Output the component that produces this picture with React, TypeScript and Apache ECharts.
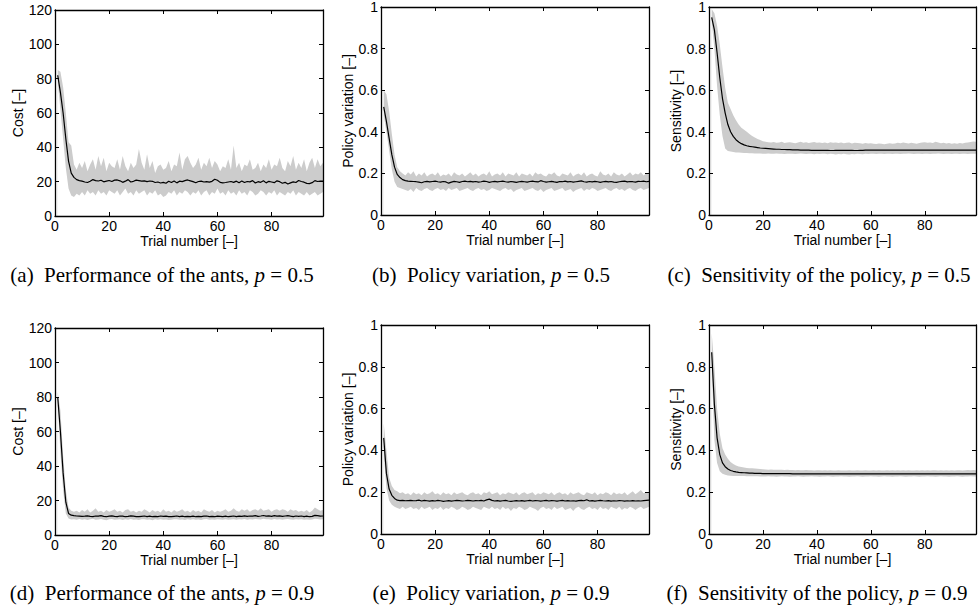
import React, { useEffect, useRef } from "react";
import * as echarts from "echarts";

// Trial numbers 1..99
const trials: number[] = Array.from({ length: 99 }, (_, i) => i + 1);

// (a) Cost, p = 0.5
const meanA = [82, 72, 60, 45, 32, 25, 22.5, 21.2, 20.6, 20.3,
  19.8, 19.5, 20.2, 21.2, 20.6, 20.4, 20.8, 19.9, 20.3, 20.7,
  20.1, 20.9, 21.0, 20.5, 19.6, 20.3, 21.2, 19.8, 20.2, 20.9,
  20.6, 20.3, 20.5, 20.0, 20.4, 20.2, 19.5, 19.8, 19.2, 19.6,
  19.1, 20.2, 19.5, 20.4, 19.3, 20.3, 20.0, 20.6, 21.0, 20.5,
  20.0, 19.4, 20.1, 20.3, 19.8, 20.0, 19.7, 20.2, 21.4, 20.8,
  19.6, 19.3, 19.5, 19.8, 20.1, 19.6, 20.3, 19.4, 20.4, 19.5,
  20.1, 19.9, 20.6, 19.2, 20.0, 19.6, 20.5, 19.3, 20.2, 19.8,
  19.4, 20.5, 20.0, 19.1, 19.6, 18.6, 19.3, 19.9, 19.5, 20.7,
  20.1, 19.7, 19.0, 18.9, 19.4, 20.6, 20.1, 20.3, 20.4];
const upperA = [85, 84, 75, 60, 43, 41, 30, 27, 31, 28,
  32, 26, 30, 33, 27, 35, 29, 34, 26, 31,
  29, 28, 33, 27, 35, 29, 26, 31, 28, 30,
  39, 31, 27, 36, 28, 32, 25, 29, 30, 27,
  28, 32, 26, 30, 29, 37, 27, 33, 35, 31,
  28, 30, 34, 27, 31, 29, 34, 28, 32, 30,
  26, 29, 28, 33, 27, 41, 28, 31, 26, 30,
  29, 33, 27, 28, 31, 26, 30, 28, 33, 27,
  30, 29, 34, 28, 26, 32, 29, 35, 27, 31,
  28, 33, 26, 31, 34, 28, 33, 29, 31];
const lowerA = [78, 62, 45, 28, 16, 12, 11, 13, 12, 14,
  12, 15, 13, 14, 12, 15, 13, 14, 12, 15,
  14, 13, 15, 12, 14, 16, 13, 14, 12, 15,
  13, 14, 15, 12, 14, 13, 15, 12, 13, 11,
  12, 14, 13, 15, 12, 14, 13, 15, 14, 12,
  14, 13, 15, 12, 14, 15, 12, 14, 13, 16,
  13, 14, 12, 15, 13, 14, 12, 15, 13, 14,
  12, 15, 14, 12, 13, 15, 14, 12, 14, 13,
  15, 12, 14, 13, 12, 14, 13, 15, 12, 14,
  13, 12, 14, 12, 13, 14, 12, 13, 14];

// (b) Policy variation, p = 0.5
const meanB = [0.52, 0.45, 0.37, 0.29, 0.23, 0.195, 0.18, 0.17, 0.165, 0.163,
  0.162, 0.161, 0.160, 0.158, 0.155, 0.160, 0.162, 0.159, 0.161, 0.163,
  0.160, 0.158, 0.161, 0.159, 0.153, 0.158, 0.162, 0.160, 0.157, 0.161,
  0.163, 0.160, 0.162, 0.159, 0.161, 0.158, 0.160, 0.163, 0.161, 0.157,
  0.160, 0.162, 0.159, 0.161, 0.163, 0.160, 0.158, 0.161, 0.159, 0.157,
  0.160, 0.162, 0.160, 0.158, 0.161, 0.163, 0.160, 0.159, 0.165, 0.161,
  0.158, 0.160, 0.162, 0.159, 0.157, 0.161, 0.160, 0.163, 0.159, 0.161,
  0.158, 0.160, 0.162, 0.164, 0.160, 0.158, 0.161, 0.159, 0.162, 0.160,
  0.157, 0.160, 0.162, 0.159, 0.161, 0.158, 0.157, 0.160, 0.162, 0.163,
  0.159, 0.161, 0.160, 0.158, 0.162, 0.161, 0.163, 0.160, 0.162];
const upperB = [0.60, 0.58, 0.50, 0.39, 0.29, 0.23, 0.21, 0.20, 0.19, 0.205,
  0.195, 0.210, 0.185, 0.200, 0.190, 0.205, 0.185, 0.195, 0.200, 0.190,
  0.205, 0.185, 0.195, 0.190, 0.200, 0.185, 0.205, 0.195, 0.190, 0.200,
  0.185, 0.195, 0.205, 0.190, 0.200, 0.185, 0.195, 0.200, 0.190, 0.210,
  0.185, 0.195, 0.200, 0.190, 0.205, 0.185, 0.200, 0.195, 0.190, 0.205,
  0.185, 0.200, 0.195, 0.190, 0.200, 0.185, 0.205, 0.195, 0.200, 0.190,
  0.185, 0.200, 0.195, 0.205, 0.190, 0.185, 0.200, 0.195, 0.190, 0.205,
  0.185, 0.195, 0.200, 0.190, 0.205, 0.185, 0.195, 0.200, 0.190, 0.185,
  0.210, 0.195, 0.190, 0.200, 0.185, 0.205, 0.195, 0.190, 0.200, 0.185,
  0.195, 0.205, 0.190, 0.200, 0.195, 0.205, 0.190, 0.200, 0.195];
const lowerB = [0.48, 0.40, 0.31, 0.22, 0.16, 0.135, 0.13, 0.125, 0.12, 0.115,
  0.125, 0.110, 0.130, 0.120, 0.115, 0.125, 0.130, 0.120, 0.115, 0.125,
  0.130, 0.120, 0.125, 0.115, 0.130, 0.120, 0.125, 0.130, 0.115, 0.120,
  0.125, 0.130, 0.120, 0.115, 0.125, 0.130, 0.120, 0.125, 0.115, 0.120,
  0.130, 0.125, 0.120, 0.115, 0.125, 0.130, 0.120, 0.125, 0.110, 0.120,
  0.125, 0.130, 0.115, 0.120, 0.125, 0.130, 0.120, 0.115, 0.125, 0.110,
  0.120, 0.125, 0.130, 0.115, 0.120, 0.125, 0.130, 0.115, 0.120, 0.125,
  0.110, 0.120, 0.125, 0.130, 0.115, 0.125, 0.120, 0.130, 0.125, 0.115,
  0.120, 0.125, 0.130, 0.120, 0.115, 0.125, 0.130, 0.120, 0.125, 0.115,
  0.125, 0.130, 0.120, 0.115, 0.125, 0.130, 0.120, 0.125, 0.130];

// (c) Sensitivity, p = 0.5
const meanC = [0.95, 0.89, 0.78, 0.66, 0.56, 0.49, 0.435, 0.40, 0.378, 0.362,
  0.351, 0.343, 0.337, 0.333, 0.330, 0.328, 0.326, 0.324, 0.322, 0.321,
  0.320, 0.319, 0.318, 0.317, 0.316, 0.316, 0.315, 0.315, 0.314, 0.314,
  0.313, 0.313, 0.313, 0.312, 0.312, 0.312, 0.312, 0.311, 0.311, 0.311,
  0.311, 0.311, 0.311, 0.311, 0.310, 0.310, 0.311, 0.311, 0.311, 0.311,
  0.311, 0.311, 0.311, 0.310, 0.310, 0.311, 0.311, 0.312, 0.312, 0.312,
  0.312, 0.312, 0.312, 0.312, 0.312, 0.312, 0.312, 0.312, 0.312, 0.312,
  0.312, 0.312, 0.312, 0.312, 0.312, 0.312, 0.312, 0.312, 0.312, 0.312,
  0.312, 0.312, 0.312, 0.312, 0.312, 0.312, 0.312, 0.312, 0.312, 0.312,
  0.312, 0.312, 0.312, 0.312, 0.312, 0.312, 0.312, 0.312, 0.312];
const upperC = [0.99, 0.97, 0.91, 0.82, 0.71, 0.61, 0.54, 0.51, 0.48, 0.455,
  0.435, 0.42, 0.41, 0.40, 0.39, 0.38, 0.372, 0.365, 0.36, 0.355,
  0.352, 0.350, 0.348, 0.351, 0.347, 0.349, 0.352, 0.346, 0.348, 0.350,
  0.347, 0.345, 0.349, 0.352, 0.347, 0.350, 0.346, 0.348, 0.351, 0.347,
  0.349, 0.346, 0.348, 0.345, 0.350, 0.347, 0.349, 0.346, 0.348, 0.345,
  0.347, 0.349, 0.344, 0.347, 0.346, 0.345, 0.343, 0.346, 0.344, 0.345,
  0.343, 0.341, 0.344, 0.342, 0.340, 0.343, 0.345, 0.342, 0.344, 0.347,
  0.345, 0.348, 0.346, 0.344, 0.347, 0.345, 0.343, 0.346, 0.348, 0.350,
  0.347, 0.349, 0.346, 0.352, 0.348, 0.345, 0.347, 0.344, 0.346, 0.343,
  0.345, 0.342, 0.346, 0.344, 0.347, 0.349, 0.351, 0.353, 0.352];
const lowerC = [0.93, 0.80, 0.62, 0.48, 0.38, 0.32, 0.308, 0.305, 0.303, 0.301,
  0.300, 0.299, 0.298, 0.298, 0.297, 0.297, 0.296, 0.296, 0.296, 0.295,
  0.295, 0.296, 0.294, 0.295, 0.296, 0.294, 0.295, 0.293, 0.295, 0.294,
  0.295, 0.293, 0.294, 0.296, 0.294, 0.293, 0.295, 0.294, 0.292, 0.294,
  0.293, 0.295, 0.294, 0.292, 0.294, 0.293, 0.291, 0.293, 0.292, 0.294,
  0.292, 0.291, 0.293, 0.292, 0.294, 0.293, 0.292, 0.294, 0.293, 0.295,
  0.294, 0.293, 0.295, 0.294, 0.293, 0.295, 0.294, 0.293, 0.295, 0.294,
  0.293, 0.295, 0.294, 0.296, 0.294, 0.293, 0.295, 0.294, 0.293, 0.295,
  0.294, 0.293, 0.295, 0.294, 0.296, 0.294, 0.293, 0.295, 0.294, 0.293,
  0.295, 0.294, 0.293, 0.295, 0.294, 0.293, 0.294, 0.295, 0.294];

// (d) Cost, p = 0.9
const meanD = [80, 60, 36, 19, 12.5, 11.5, 11.2, 11.0, 10.9, 10.8,
  10.9, 11.1, 10.8, 10.7, 11.0, 10.9, 11.2, 10.8, 10.6, 10.9,
  11.1, 10.8, 10.7, 11.0, 10.9, 10.6, 10.8, 11.1, 10.9, 10.7,
  10.6, 10.8, 11.0, 10.7, 10.9, 10.6, 10.8, 10.7, 11.0, 10.8,
  10.9, 10.7, 10.6, 10.8, 11.0, 10.7, 10.9, 10.6, 10.8, 10.7,
  10.9, 10.6, 10.8, 10.7, 10.9, 11.0, 10.7, 10.8, 10.6, 10.9,
  10.8, 10.7, 10.9, 10.6, 10.8, 11.0, 10.7, 10.9, 10.8, 11.1,
  10.8, 11.0, 10.9, 11.2, 10.8, 11.0, 11.3, 10.9, 11.1, 10.8,
  11.2, 10.9, 11.1, 10.8, 11.0, 11.2, 10.9, 10.7, 11.0, 10.8,
  11.0, 10.7, 10.9, 10.6, 10.8, 11.4, 11.2, 10.9, 11.0];
const upperD = [83, 72, 46, 26, 16, 14, 13.5, 14, 13, 14.5,
  13.5, 15, 13, 14, 15.5, 13.5, 14, 13, 14.5, 13.5,
  14, 15, 13.5, 14, 13, 14.5, 15, 13.5, 14, 13,
  14, 13.5, 15, 14, 13, 14.5, 13.5, 14, 13, 15,
  13.5, 14, 13, 14.5, 13.5, 14, 15, 13.5, 14, 13,
  14.5, 13.5, 14, 13, 15, 14, 13.5, 14.5, 13, 14,
  13.5, 14, 15, 13.5, 14, 15.5, 14, 13.5, 15, 14,
  15, 13.5, 14.5, 15, 14, 15.5, 14, 14.5, 15, 13.5,
  14.5, 15, 14, 15, 14.5, 13.5, 15, 14, 14.5, 13.5,
  14, 13.5, 14.5, 13, 14, 16, 15, 14, 14.5];
const lowerD = [77, 48, 26, 12.5, 9.5, 9, 9.2, 8.8, 9.3, 8.9,
  9.2, 8.7, 9.1, 9.4, 8.8, 9.0, 9.3, 8.9, 8.6, 9.1,
  9.3, 8.8, 9.0, 9.2, 8.7, 9.1, 8.9, 9.3, 8.8, 9.0,
  8.7, 9.1, 9.2, 8.8, 9.0, 8.6, 9.1, 8.9, 9.2, 8.8,
  9.0, 8.7, 8.9, 9.1, 9.2, 8.8, 9.0, 8.7, 9.1, 8.9,
  9.2, 8.8, 9.0, 8.7, 9.1, 9.3, 8.9, 9.0, 8.8, 9.2,
  9.0, 8.9, 9.1, 8.8, 9.0, 9.2, 8.9, 9.1, 9.0, 9.3,
  8.9, 9.2, 9.0, 9.3, 9.1, 9.0, 9.4, 9.1, 9.2, 8.9,
  9.3, 9.0, 9.2, 8.9, 9.1, 9.3, 9.0, 8.8, 9.1, 9.0,
  9.2, 8.9, 9.0, 8.8, 9.0, 9.4, 9.3, 9.0, 9.1];

// (e) Policy variation, p = 0.9
const meanE = [0.46, 0.29, 0.215, 0.185, 0.170, 0.162, 0.160, 0.161, 0.159, 0.160,
  0.161, 0.159, 0.160, 0.162, 0.158, 0.161, 0.159, 0.157, 0.160, 0.158,
  0.161, 0.159, 0.156, 0.158, 0.160, 0.157, 0.159, 0.161, 0.160, 0.158,
  0.159, 0.161, 0.160, 0.158, 0.160, 0.159, 0.161, 0.158, 0.163, 0.167,
  0.161, 0.158, 0.160, 0.157, 0.159, 0.161, 0.158, 0.156, 0.158, 0.160,
  0.158, 0.160, 0.157, 0.159, 0.161, 0.158, 0.160, 0.159, 0.157, 0.159,
  0.161, 0.158, 0.160, 0.159, 0.157, 0.159, 0.161, 0.158, 0.160, 0.158,
  0.159, 0.157, 0.160, 0.161, 0.159, 0.164, 0.158, 0.160, 0.157, 0.159,
  0.161, 0.159, 0.158, 0.160, 0.157, 0.159, 0.158, 0.160, 0.159, 0.157,
  0.159, 0.158, 0.160, 0.158, 0.159, 0.158, 0.160, 0.161, 0.162];
const upperE = [0.53, 0.40, 0.27, 0.23, 0.21, 0.205, 0.195, 0.20, 0.19, 0.195,
  0.185, 0.200, 0.190, 0.195, 0.185, 0.200, 0.190, 0.195, 0.205, 0.190,
  0.195, 0.185, 0.200, 0.190, 0.195, 0.185, 0.200, 0.190, 0.195, 0.200,
  0.190, 0.185, 0.195, 0.200, 0.190, 0.195, 0.185, 0.200, 0.195, 0.205,
  0.190, 0.195, 0.200, 0.185, 0.195, 0.190, 0.200, 0.195, 0.190, 0.200,
  0.185, 0.195, 0.200, 0.190, 0.195, 0.200, 0.185, 0.195, 0.190, 0.200,
  0.195, 0.190, 0.200, 0.185, 0.195, 0.200, 0.190, 0.195, 0.185, 0.200,
  0.190, 0.195, 0.200, 0.190, 0.185, 0.200, 0.195, 0.190, 0.200, 0.185,
  0.195, 0.190, 0.200, 0.195, 0.185, 0.200, 0.190, 0.195, 0.190, 0.200,
  0.185, 0.195, 0.205, 0.190, 0.200, 0.210, 0.195, 0.200, 0.195];
const lowerE = [0.38, 0.22, 0.16, 0.14, 0.13, 0.125, 0.12, 0.13, 0.12, 0.125,
  0.130, 0.120, 0.125, 0.115, 0.130, 0.120, 0.125, 0.130, 0.115, 0.125,
  0.120, 0.130, 0.115, 0.125, 0.120, 0.130, 0.125, 0.115, 0.120, 0.130,
  0.125, 0.115, 0.120, 0.130, 0.125, 0.120, 0.115, 0.130, 0.125, 0.120,
  0.130, 0.120, 0.125, 0.115, 0.130, 0.120, 0.125, 0.110, 0.125, 0.120,
  0.130, 0.125, 0.115, 0.120, 0.130, 0.125, 0.120, 0.110, 0.125, 0.130,
  0.120, 0.125, 0.115, 0.130, 0.120, 0.125, 0.130, 0.115, 0.120, 0.125,
  0.110, 0.125, 0.130, 0.120, 0.115, 0.125, 0.130, 0.120, 0.125, 0.115,
  0.130, 0.120, 0.125, 0.115, 0.130, 0.125, 0.120, 0.130, 0.115, 0.125,
  0.120, 0.130, 0.125, 0.115, 0.125, 0.130, 0.120, 0.125, 0.130];

// (f) Sensitivity, p = 0.9
const meanF = [0.87, 0.62, 0.46, 0.38, 0.34, 0.322, 0.311, 0.304, 0.300, 0.297,
  0.295, 0.294, 0.293, 0.292, 0.291, 0.291, 0.290, 0.290, 0.290, 0.289,
  0.289, 0.289, 0.289, 0.289, 0.289, 0.289, 0.289, 0.289, 0.289, 0.289,
  0.288, 0.288, 0.288, 0.288, 0.288, 0.288, 0.288, 0.288, 0.288, 0.288,
  0.288, 0.288, 0.288, 0.288, 0.288, 0.288, 0.288, 0.288, 0.288, 0.288,
  0.288, 0.288, 0.288, 0.288, 0.288, 0.288, 0.288, 0.288, 0.288, 0.288,
  0.288, 0.288, 0.288, 0.288, 0.288, 0.288, 0.288, 0.288, 0.288, 0.288,
  0.288, 0.288, 0.288, 0.288, 0.288, 0.288, 0.288, 0.288, 0.288, 0.288,
  0.288, 0.288, 0.288, 0.288, 0.288, 0.288, 0.288, 0.288, 0.288, 0.288,
  0.288, 0.288, 0.288, 0.288, 0.288, 0.288, 0.288, 0.288, 0.288];
const upperF = [0.96, 0.80, 0.60, 0.48, 0.41, 0.38, 0.36, 0.345, 0.335, 0.328,
  0.323, 0.320, 0.318, 0.316, 0.315, 0.314, 0.313, 0.312, 0.311, 0.310,
  0.309, 0.308, 0.309, 0.308, 0.307, 0.308, 0.307, 0.306, 0.307, 0.306,
  0.306, 0.305, 0.306, 0.305, 0.305, 0.306, 0.305, 0.305, 0.304, 0.305,
  0.305, 0.304, 0.305, 0.304, 0.305, 0.304, 0.304, 0.305, 0.304, 0.304,
  0.304, 0.305, 0.304, 0.304, 0.305, 0.304, 0.304, 0.305, 0.304, 0.304,
  0.305, 0.304, 0.305, 0.304, 0.304, 0.305, 0.304, 0.305, 0.304, 0.305,
  0.304, 0.305, 0.304, 0.305, 0.304, 0.304, 0.305, 0.304, 0.305, 0.304,
  0.305, 0.304, 0.305, 0.305, 0.304, 0.305, 0.304, 0.305, 0.304, 0.305,
  0.304, 0.305, 0.305, 0.304, 0.305, 0.306, 0.305, 0.306, 0.305];
const lowerF = [0.80, 0.45, 0.34, 0.30, 0.288, 0.283, 0.280, 0.279, 0.278, 0.278,
  0.277, 0.277, 0.277, 0.276, 0.276, 0.276, 0.276, 0.276, 0.275, 0.275,
  0.275, 0.276, 0.275, 0.275, 0.274, 0.275, 0.276, 0.275, 0.275, 0.274,
  0.275, 0.275, 0.276, 0.275, 0.274, 0.275, 0.275, 0.276, 0.275, 0.275,
  0.274, 0.275, 0.275, 0.276, 0.275, 0.274, 0.275, 0.275, 0.276, 0.275,
  0.275, 0.274, 0.275, 0.275, 0.276, 0.275, 0.274, 0.275, 0.275, 0.276,
  0.275, 0.275, 0.274, 0.275, 0.276, 0.275, 0.275, 0.274, 0.275, 0.275,
  0.276, 0.275, 0.274, 0.275, 0.275, 0.276, 0.275, 0.274, 0.275, 0.275,
  0.276, 0.275, 0.275, 0.274, 0.275, 0.276, 0.275, 0.275, 0.274, 0.275,
  0.275, 0.276, 0.275, 0.274, 0.275, 0.275, 0.276, 0.275, 0.275];

const xTickInterval = 20;
const yLabels = ["Cost [\u2013]", "Policy variation [\u2013]", "Sensitivity [\u2013]"];
const xLabel = "Trial number [\u2013]";
const captions = [
  ["(a)", "Performance of the ants,", "0.5"],
  ["(b)", "Policy variation,", "0.5"],
  ["(c)", "Sensitivity of the policy,", "0.5"],
  ["(d)", "Performance of the ants,", "0.9"],
  ["(e)", "Policy variation,", "0.9"],
  ["(f)", "Sensitivity of the policy,", "0.9"],
];

const panels = [
  { mean: meanA, upper: upperA, lower: lowerA, yMax: 120, yInt: 20, yName: yLabels[0], box: [55, 10, 268, 206], nameGap: 26, cap: [162, 275] },
  { mean: meanB, upper: upperB, lower: lowerB, yMax: 1, yInt: 0.2, yName: yLabels[1], box: [381, 7, 268, 208], nameGap: 24, cap: [491, 275] },
  { mean: meanC, upper: upperC, lower: lowerC, yMax: 1, yInt: 0.2, yName: yLabels[2], box: [709, 7, 267, 208], nameGap: 24, cap: [819, 275] },
  { mean: meanD, upper: upperD, lower: lowerD, yMax: 120, yInt: 20, yName: yLabels[0], box: [55, 328, 268, 207], nameGap: 26, cap: [162, 593] },
  { mean: meanE, upper: upperE, lower: lowerE, yMax: 1, yInt: 0.2, yName: yLabels[1], box: [381, 325, 268, 209], nameGap: 24, cap: [491, 593] },
  { mean: meanF, upper: upperF, lower: lowerF, yMax: 1, yInt: 0.2, yName: yLabels[2], box: [709, 325, 267, 209], nameGap: 24, cap: [817, 593] },
];

const SANS = "Liberation Sans";
const SERIF = "Liberation Serif";
const TICK_FS = 14;
const CAP_FS = 21;

function fmt(v: number) {
  return String(parseFloat(v.toFixed(2)));
}

function buildOption() {
  const grid: any[] = [];
  const xAxis: any[] = [];
  const yAxis: any[] = [];
  const series: any[] = [];
  const graphic: any[] = [];
  const line = { show: true, onZero: false, lineStyle: { color: "#000", width: 1.3 } };
  const tick = { show: true, inside: true, length: 4, lineStyle: { color: "#000", width: 1 } };

  panels.forEach((p, i) => {
    const [l, t, w, h] = p.box;
    grid.push({ left: l, top: t, width: w, height: h, containLabel: false });
    xAxis.push({
      gridIndex: i, type: "value", position: "bottom", min: 0, max: 99, interval: xTickInterval, z: 10,
      axisLine: line, axisTick: tick, splitLine: { show: false },
      axisLabel: { show: true, margin: 3, color: "#000", fontFamily: SANS, fontSize: TICK_FS, showMaxLabel: false, formatter: fmt },
      name: xLabel, nameLocation: "middle", nameGap: 17,
      nameTextStyle: { color: "#000", fontFamily: SANS, fontSize: TICK_FS },
    });
    xAxis.push({
      gridIndex: i, type: "value", position: "top", min: 0, max: 99, interval: xTickInterval, z: 10,
      axisLine: line, axisTick: tick, splitLine: { show: false }, axisLabel: { show: false },
    });
    yAxis.push({
      gridIndex: i, type: "value", position: "left", min: 0, max: p.yMax, interval: p.yInt, z: 10,
      axisLine: line, axisTick: tick, splitLine: { show: false },
      axisLabel: { show: true, margin: 3, color: "#000", fontFamily: SANS, fontSize: TICK_FS, formatter: fmt },
      name: p.yName, nameLocation: "middle", nameGap: p.nameGap,
      nameTextStyle: { color: "#000", fontFamily: SANS, fontSize: TICK_FS },
    });
    yAxis.push({
      gridIndex: i, type: "value", position: "right", min: 0, max: p.yMax, interval: p.yInt, z: 10,
      axisLine: line, axisTick: tick, splitLine: { show: false }, axisLabel: { show: false },
    });
    const xi = 2 * i;
    // upper envelope, filled grey down to the axis
    series.push({
      type: "line", xAxisIndex: xi, yAxisIndex: xi, symbol: "none", silent: true, z: 1,
      lineStyle: { width: 0, opacity: 0 },
      areaStyle: { color: "#cccccc", opacity: 1, origin: "start" },
      data: trials.map((x, k) => [x, p.upper[k]]),
    });
    // lower envelope, filled white down to the axis (clears the grey below the band)
    series.push({
      type: "line", xAxisIndex: xi, yAxisIndex: xi, symbol: "none", silent: true, z: 2,
      lineStyle: { width: 0, opacity: 0 },
      areaStyle: { color: "#ffffff", opacity: 1, origin: "start" },
      data: trials.map((x, k) => [x, p.lower[k]]),
    });
    series.push({
      type: "line", xAxisIndex: xi, yAxisIndex: xi, symbol: "none", silent: true, z: 3,
      lineStyle: { width: 1.2, color: "#000" },
      data: trials.map((x, k) => [x, p.mean[k]]),
    });
    const c = captions[i];
    graphic.push({
      type: "text", x: p.cap[0], y: p.cap[1],
      style: {
        text: c[0] + "  " + c[1] + " {i|p} = " + c[2],
        fontFamily: SERIF, fontSize: CAP_FS, fill: "#000",
        align: "center", verticalAlign: "middle",
        rich: { i: { fontFamily: SERIF, fontSize: CAP_FS, fontStyle: "italic", fill: "#000" } },
      },
    });
  });

  return { animation: false, backgroundColor: "#fff", grid, xAxis, yAxis, series, graphic };
}

export default function App() {
  const ref = useRef<HTMLDivElement>(null);
  useEffect(() => {
    if (!ref.current) return;
    const chart = echarts.init(ref.current, undefined, { renderer: "svg" });
    chart.setOption(buildOption() as any);
    return () => chart.dispose();
  }, []);
  return (
    <div
      ref={ref}
      style={{ position: "absolute", left: 0, top: 0, width: 979, height: 608, background: "#fff" }}
    />
  );
}
